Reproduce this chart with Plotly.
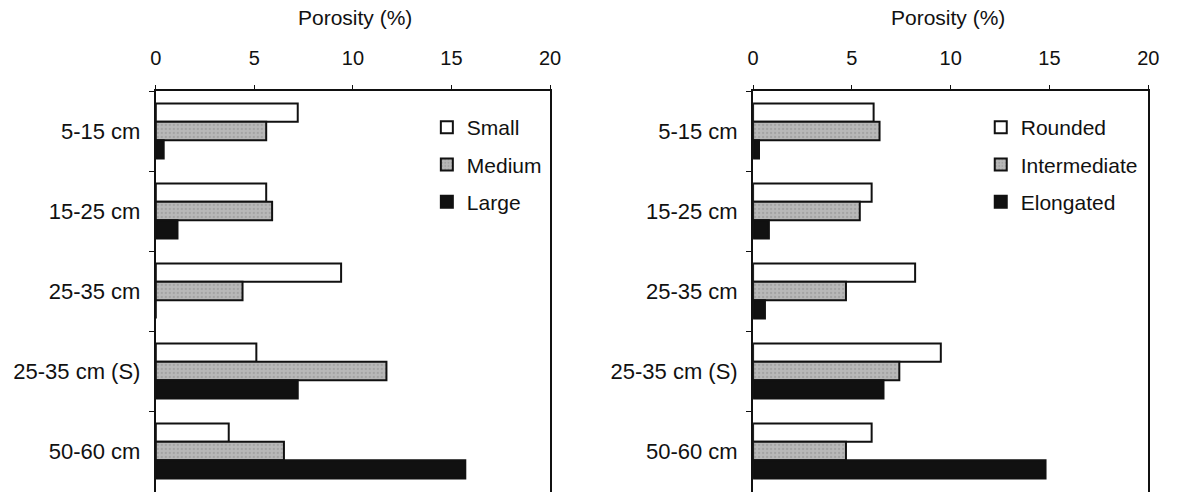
import plotly.graph_objects as go

# Depth intervals (top to bottom)
depths = ["5-15 cm", "15-25 cm", "25-35 cm", "25-35 cm (S)", "50-60 cm"]

# Porosity (%) by pore size class
small = [7.2, 5.6, 9.4, 5.1, 3.7]
medium = [5.6, 5.9, 4.4, 11.7, 6.5]
large = [0.4, 1.1, 0.0, 7.2, 15.7]

# Porosity (%) by pore shape class
rounded = [6.1, 6.0, 8.2, 9.5, 6.0]
intermediate = [6.4, 5.4, 4.7, 7.4, 4.7]
elongated = [0.3, 0.8, 0.6, 6.6, 14.8]

x_ticks = [0, 5, 10, 15, 20]

W, H = 1180, 492
TOP = 91
FONT = "Liberation Sans, Arial, Helvetica, sans-serif"
INK = "#111111"

white_style = dict(color="white", line=dict(color=INK, width=2))
grey_style = dict(
    color="#b5b5b5",
    line=dict(color=INK, width=2),
    pattern=dict(shape=".", bgcolor="#b8b8b8", fgcolor="#8c8c8c", size=4, solidity=0.25),
)
black_style = dict(color=INK, line=dict(color=INK, width=2))

fig = go.Figure()

panels = [
    ("x", "y", "legend", [("Small", small, white_style), ("Medium", medium, grey_style), ("Large", large, black_style)]),
    ("x2", "y2", "legend2", [("Rounded", rounded, white_style), ("Intermediate", intermediate, grey_style), ("Elongated", elongated, black_style)]),
]

for xa, ya, leg, series in panels:
    for name, vals, style in series:
        fig.add_trace(go.Bar(
            x=vals, y=depths, orientation="h", name=name,
            marker=style, xaxis=xa, yaxis=ya, legend=leg, legendgroup=xa + name,
        ))

def px_x(p):
    return p / W

def px_y(p):
    return (H - p) / (H - TOP)

common_x = dict(
    range=[0, 20], tickvals=x_ticks, side="top", showline=True, linecolor=INK, linewidth=2,
    ticks="outside", ticklen=4, tickcolor=INK, showgrid=False, zeroline=False,
    tickfont=dict(family=FONT, size=20, color=INK), ticklabelstandoff=12, fixedrange=True,
)
common_y = dict(
    type="category", categoryorder="array", categoryarray=depths,
    range=[4.5125, -0.5], showline=True, linecolor=INK, linewidth=2, mirror=True,
    ticks="outside", ticklen=5, tickcolor=INK, tickson="boundaries", showgrid=False,
    tickfont=dict(family=FONT, size=22, color=INK), ticklabelstandoff=9, fixedrange=True,
)

# each entry is its own group so tracegroupgap sets the spacing between rows
legend_common = dict(
    font=dict(family=FONT, size=21, color=INK), bgcolor="rgba(0,0,0,0)", borderwidth=0,
    xanchor="left", yanchor="top", traceorder="grouped", tracegroupgap=7,
)

title_font = dict(family=FONT, size=21, color=INK)

fig.update_layout(
    width=W, height=H,
    margin=dict(l=0, r=0, t=TOP, b=0),
    paper_bgcolor="white", plot_bgcolor="white",
    barmode="group", bargap=0.31, bargroupgap=0,
    xaxis=dict(domain=[px_x(152), px_x(552)], anchor="y", **common_x),
    yaxis=dict(domain=[0, 1], anchor="x", **common_y),
    xaxis2=dict(domain=[px_x(758), px_x(1159)], anchor="y2", **common_x),
    yaxis2=dict(domain=[0, 1], anchor="x2", **common_y),
    legend=dict(x=px_x(427), y=px_y(107), **legend_common),
    legend2=dict(x=px_x(989), y=px_y(107), **legend_common),
    annotations=[
        dict(text="Porosity (%)", x=px_x(354), y=px_y(18), xref="paper", yref="paper",
             showarrow=False, font=title_font, xanchor="center", yanchor="middle"),
        dict(text="Porosity (%)", x=px_x(956), y=px_y(18), xref="paper", yref="paper",
             showarrow=False, font=title_font, xanchor="center", yanchor="middle"),
    ],
    showlegend=True,
)

fig.write_html("out.html")
